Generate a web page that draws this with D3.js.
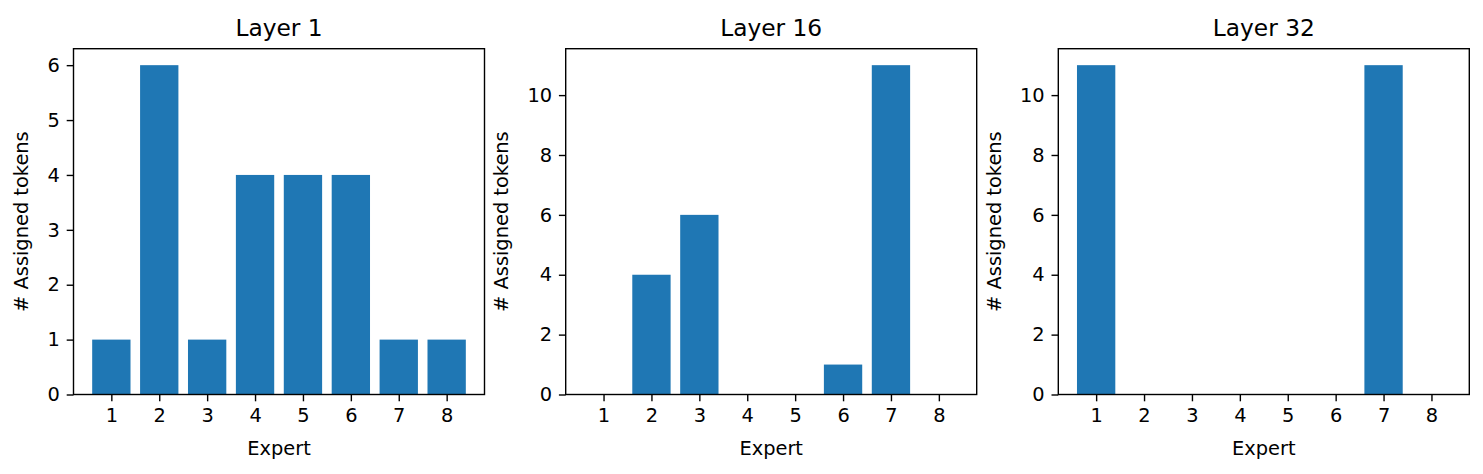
<!DOCTYPE html>
<html>
<head>
<meta charset="utf-8">
<script src="https://cdn.jsdelivr.net/npm/d3@7"></script>
<style>
  html, body { margin: 0; padding: 0; background: #fff; }
  svg text { font-family: 'DejaVu Sans', sans-serif; fill: #000; }
</style>
</head>
<body>
<div id="chart"></div>
<script>
'use strict';

// data
var experts = [1, 2, 3, 4, 5, 6, 7, 8];
var layerTitles = ['Layer 1', 'Layer 16', 'Layer 32'];
var layer1Counts = [1, 6, 1, 4, 4, 4, 1, 1];
var layer16Counts = [0, 4, 6, 0, 0, 1, 11, 0];
var layer32Counts = [11, 0, 0, 0, 0, 0, 11, 0];
var layer1Ticks = [0, 1, 2, 3, 4, 5, 6];
var layer16Ticks = [0, 2, 4, 6, 8, 10];
var layer32Ticks = [0, 2, 4, 6, 8, 10];
var xLabel = 'Expert';
var yLabel = '# Assigned tokens';

var panels = [
	{ title: layerTitles[0], counts: layer1Counts, ticks: layer1Ticks, left: 73.5 },
	{ title: layerTitles[1], counts: layer16Counts, ticks: layer16Ticks, left: 565.7 },
	{ title: layerTitles[2], counts: layer32Counts, ticks: layer32Ticks, left: 1058.3 }
];

// layout constants (px)
var width = 1483,
	height = 474;
var plotW = 411,
	plotTop = 48.7,
	plotBottom = 394.5;
var plotH = plotBottom - plotTop;
var fontSize = 19.4,
	titleSize = 23.3;
var tickLen = 6.8;
var barColor = '#1f77b4';

var svg = d3.select('#chart')
	.append('svg')
	.attr('width', width)
	.attr('height', height);

panels.forEach(function (p) {
	var g = svg.append('g')
		.attr('transform', 'translate(' + p.left + ',' + plotTop + ')');

	// matplotlib default margins: 5% on x around the bar extent, 5% on top of y
	var x = d3.scaleLinear()
		.domain([0.6 - 0.39, 8.4 + 0.39])
		.range([0, plotW]);
	var yMax = d3.max(p.counts) * 1.05;
	var y = d3.scaleLinear()
		.domain([0, yMax])
		.range([plotH, 0]);

	g.selectAll('rect.bar')
		.data(experts.map(function (e, i) { return { e: e, v: p.counts[i] }; }))
		.enter()
		.append('rect')
		.filter(function (d) { return d.v > 0; })
		.attr('class', 'bar')
		.attr('x', function (d) { return x(d.e - 0.4); })
		.attr('width', function (d) { return x(d.e + 0.4) - x(d.e - 0.4); })
		.attr('y', function (d) { return y(d.v); })
		.attr('height', function (d) { return y(0) - y(d.v); })
		.style('fill', barColor);

	var xAxis = g.append('g')
		.attr('transform', 'translate(0,' + plotH + ')')
		.call(d3.axisBottom(x).tickValues(experts).tickFormat(d3.format('d'))
			.tickSize(tickLen).tickPadding(6.8));
	var yAxis = g.append('g')
		.call(d3.axisLeft(y).tickValues(p.ticks).tickFormat(d3.format('d'))
			.tickSize(tickLen).tickPadding(6.8));

	[xAxis, yAxis].forEach(function (a) {
		a.select('.domain').remove();
		a.selectAll('line').attr('stroke', '#000').attr('stroke-width', 1.4);
		a.selectAll('text')
			.style('font-size', fontSize + 'px')
			.attr('fill', '#000');
	});
	xAxis.selectAll('text').attr('dy', '0.73em');

	// frame
	g.append('rect')
		.attr('x', 0)
		.attr('y', 0)
		.attr('width', plotW)
		.attr('height', plotH)
		.attr('fill', 'none')
		.attr('stroke', '#000')
		.attr('stroke-width', 1.4);

	g.append('text')
		.attr('x', plotW / 2)
		.attr('y', -13)
		.attr('text-anchor', 'middle')
		.style('font-size', titleSize + 'px')
		.text(p.title);

	g.append('text')
		.attr('x', plotW / 2)
		.attr('y', 455 - plotTop)
		.attr('text-anchor', 'middle')
		.style('font-size', fontSize + 'px')
		.text(xLabel);

	// y label sits left of the widest tick label
	var minLeft = 0;
	yAxis.selectAll('text').each(function () {
		minLeft = Math.min(minLeft, this.getBBox().x);
	});
	g.append('text')
		.attr('transform', 'translate(' + (minLeft - 19.5) + ',' + (plotH / 2) + ') rotate(-90)')
		.attr('text-anchor', 'middle')
		.style('font-size', fontSize + 'px')
		.text(yLabel);
});
</script>
</body>
</html>
